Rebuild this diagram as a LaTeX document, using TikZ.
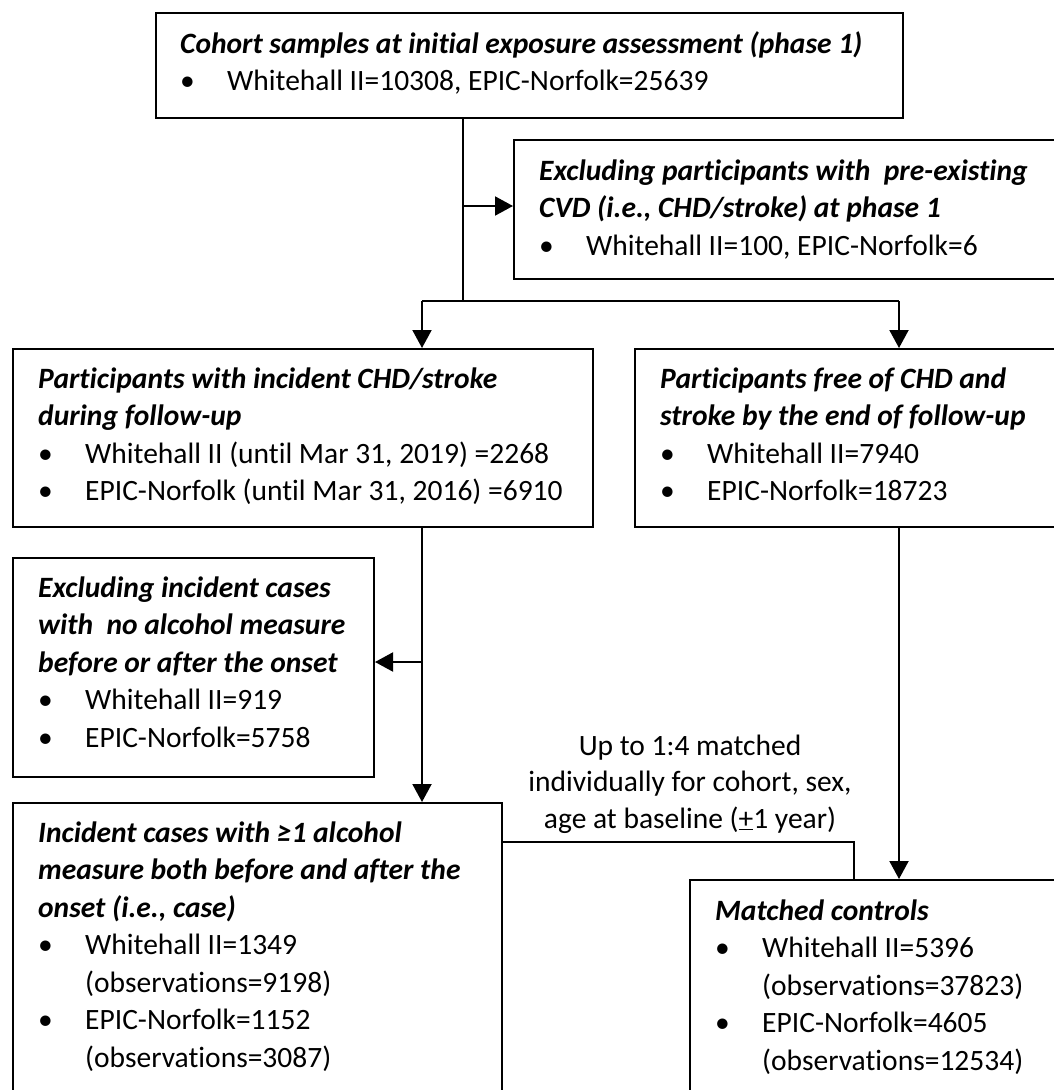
\documentclass[tikz,border=0pt]{standalone}
\usepackage{fontspec}
\setmainfont{Carlito}[Ligatures=NoCommon]
\usetikzlibrary{arrows.meta}
\newcommand\bul{\makebox[47pt][l]{•}}
\newcommand\ttl[1]{\textbf{\textit{#1}}}
\begin{document}
\begin{tikzpicture}[x=1pt,y=-1pt,
  box/.style={draw,line width=2pt,rectangle,inner sep=0pt,anchor=north west},
  txt/.style={anchor=base west,inner sep=0pt,font=\fontsize{29.5}{37.5}\selectfont},
  conn/.style={line width=2pt},
  arr/.style={conn,-{Triangle[length=18pt,width=19pt]}}]
\useasboundingbox (0,0) rectangle (1054,1090);
\clip (0,0) rectangle (1054,1090);
% boxes
\node[box,minimum width=747pt,minimum height=105pt] (b1) at (155,12) {};
\node[box,minimum width=543pt,minimum height=139pt] (b2) at (513,139) {};
\node[box,minimum width=580pt,minimum height=178pt] (b3) at (12,348) {};
\node[box,minimum width=422pt,minimum height=178pt] (b4) at (634,348) {};
\node[box,minimum width=361pt,minimum height=219pt] (b5) at (12,557) {};
\node[box,minimum width=489pt,minimum height=291pt] (b6) at (12,802) {};
\node[box,minimum width=367pt,minimum height=214pt] (b7) at (689,879) {};
% texts
\node[txt] (t1) at (180,53) {\begin{tabular}[t]{@{}l@{}}\ttl{Cohort samples at initial exposure assessment (phase 1)}\\\bul Whitehall II=10308, EPIC-Norfolk=25639\end{tabular}};
\node[txt] (t2) at (539,180) {\begin{tabular}[t]{@{}l@{}}\ttl{Excluding participants with\ \ pre-existing}\\\ttl{CVD (i.e., CHD/stroke) at phase 1}\\\bul Whitehall II=100, EPIC-Norfolk=6\end{tabular}};
\node[txt] (t3) at (38,388) {\begin{tabular}[t]{@{}l@{}}\ttl{Participants with incident CHD/stroke}\\\ttl{during follow-up}\\\bul Whitehall II (until Mar 31, 2019) =2268\\\bul EPIC-Norfolk (until Mar 31, 2016) =6910\end{tabular}};
\node[txt] (t4) at (660,388) {\begin{tabular}[t]{@{}l@{}}\ttl{Participants free of CHD and}\\\ttl{stroke by the end of follow-up}\\\bul Whitehall II=7940\\\bul EPIC-Norfolk=18723\end{tabular}};
\node[txt] (t5) at (38,597) {\begin{tabular}[t]{@{}l@{}}\ttl{Excluding incident cases}\\\ttl{with\ \ no alcohol measure}\\\ttl{before or after the onset}\\\bul Whitehall II=919\\\bul EPIC-Norfolk=5758\end{tabular}};
\node[txt] (t6) at (38,842) {\begin{tabular}[t]{@{}l@{}}\ttl{Incident cases with ≥1 alcohol}\\\ttl{measure both before and after the}\\\ttl{onset (i.e., case)}\\\bul Whitehall II=1349\\\hspace*{47pt}(observations=9198)\\\bul EPIC-Norfolk=1152\\\hspace*{47pt}(observations=3087)\end{tabular}};
\node[txt] (t7) at (715,920) {\begin{tabular}[t]{@{}l@{}}\ttl{Matched controls}\\\bul Whitehall II=5396\\\hspace*{47pt}(observations=37823)\\\bul EPIC-Norfolk=4605\\\hspace*{47pt}(observations=12534)\end{tabular}};
\node[txt,anchor=base,font=\fontsize{29.5}{36.5}\selectfont] (lab) at (690,755) {\begin{tabular}[t]{@{}c@{}}Up to 1:4 matched\\individually for cohort, sex,\\age at baseline (\underline{+}1 year)\end{tabular}};
% connectors
\coordinate (j1) at (463,301);
\coordinate (jl) at (422,301);
\coordinate (jr) at (899,301);
\coordinate (e1) at (463,206);
\coordinate (e2) at (422,662);
\coordinate (m1) at (854,842);
\draw[conn] (b1.south -| j1) -- (j1);
\draw[arr] (e1) -- (e1 -| b2.west);
\draw[conn] (jl) -- (jr);
\draw[arr] (jl) -- (jl |- b3.north);
\draw[arr] (jr) -- (jr |- b4.north);
\draw[arr] (b3.south -| jl) -- (jl |- b6.north);
\draw[arr] (e2) -- (e2 -| b5.east);
\draw[arr] (b4.south -| jr) -- (jr |- b7.north);
\draw[conn] (m1 -| b6.east) -- (m1) -- (m1 |- b7.north);
\end{tikzpicture}
\end{document}
